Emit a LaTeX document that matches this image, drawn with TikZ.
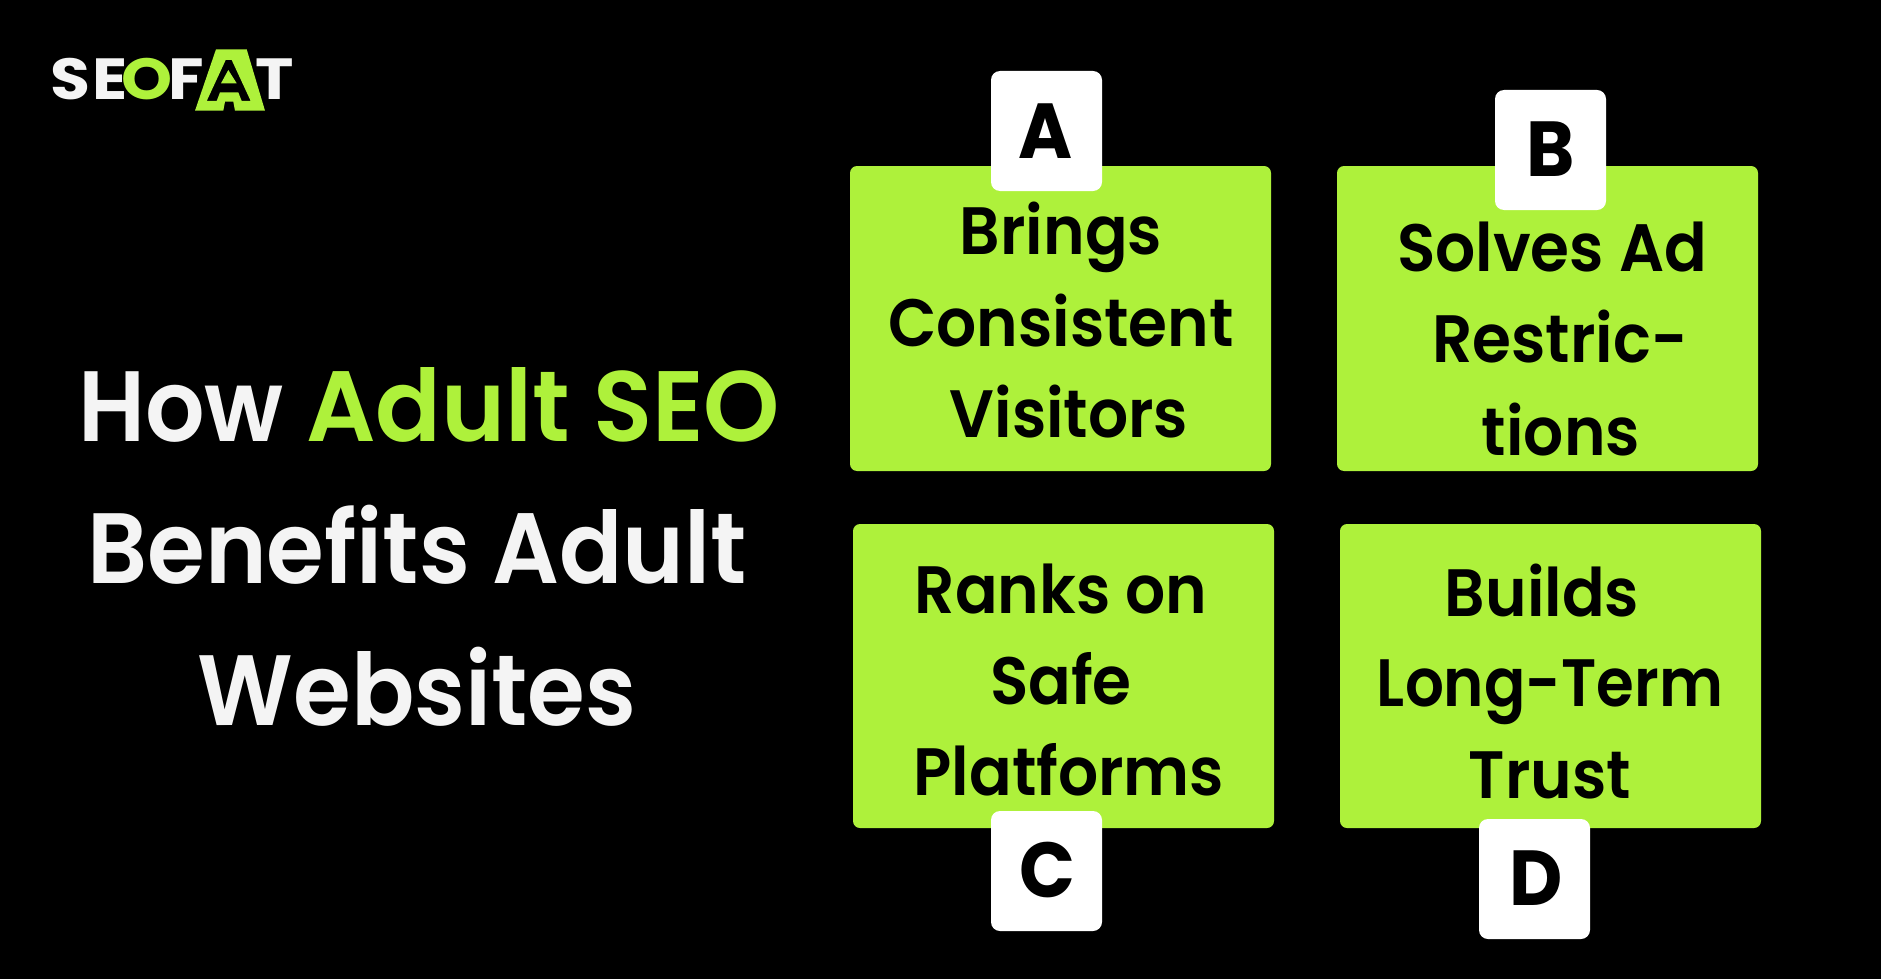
\documentclass[tikz,border=0pt]{standalone}
\usepackage{fontspec}
\setmainfont{Poppins}[FakeStretch=0.94,UprightFont=* SemiBold,BoldFont=* Bold]
\newfontfamily\titlefont{Poppins}[FakeStretch=0.935,UprightFont=* SemiBold]
\newfontfamily\titlewide{Poppins}[FakeStretch=0.97,UprightFont=* SemiBold]
\newfontfamily\logofont{Poppins}[FakeStretch=1.12,UprightFont=* Bold]
\definecolor{lime}{HTML}{AEF13B}
\definecolor{offwhite}{HTML}{F4F4F4}
\tikzset{
  card/.style={fill=lime,rounded corners=7pt},
  badge/.style={fill=white,rounded corners=9pt},
  cardtext/.style={text=black,anchor=base,inner sep=0pt,font=\fontsize{67}{67}\selectfont},
  badgetext/.style={text=black,anchor=base,inner sep=0pt,font=\fontsize{78}{78}\selectfont\bfseries},
  titletext/.style={text=offwhite,anchor=base,inner sep=0pt,font=\titlefont\fontsize{100}{100}\selectfont},
  logotext/.style={text=offwhite,anchor=base,inner sep=0pt,font=\logofont\fontsize{58}{58}\selectfont},
}
\begin{document}
\begin{tikzpicture}[x=1pt,y=-1pt]
\useasboundingbox (0,0) rectangle (1881,979);
\fill[black] (0,0) rectangle (1881,979);
% logo
\node[logotext] (lS) at (70,100) {S};
\node[logotext] (lE) at (110,100) {E};
\node[logotext] (lF) at (186,100) {F};
\node[logotext] (lT) at (275,100) {T};
\node[logotext,text=lime] (lO) at (147,100) {O};
\fill[lime,even odd rule] (195,110.7) -- (216,49.3) -- (246.7,49.3) -- (265,110.7) -- (235,110.7) -- (233.3,101.7) -- (225,101.7) -- (223.3,110.7) -- cycle
  (206.7,101) -- (225.7,60) -- (231.7,60) -- (250.7,101) -- (241.7,101) -- (238.3,92.3) -- (220,92.3) -- (216.7,101) -- cycle
  (221,83.3) -- (228.3,70) -- (236.7,83.3) -- cycle;
% cards
\fill[card] (850,166) rectangle (1271,471);
\fill[card] (1337,166) rectangle (1758,471);
\fill[card] (853,524) rectangle (1274,828);
\fill[card] (1340,524) rectangle (1761,828);
\fill[badge] (991,71) rectangle (1102,191);
\fill[badge] (1495,90) rectangle (1606,210);
\fill[badge] (991,811) rectangle (1102,931);
\fill[badge] (1479,819) rectangle (1590,939);
\node[badgetext] (bA) at (1046,158) {A};
\node[badgetext] (bB) at (1551,176) {B};
\node[badgetext] (bC) at (1047,897) {C};
\node[badgetext] (bD) at (1536,905) {D};
% card text
\node[cardtext] (a1) at (1061,254) {Brings};
\node[cardtext] (a2) at (1061,346) {Consistent};
\node[cardtext] (a3) at (1069,437) {Visitors};
\node[cardtext] (b1) at (1552,271) {Solves Ad};
\node[cardtext] (b2) at (1560,362) {Restric-};
\node[cardtext] (b3) at (1561,455) {tions};
\node[cardtext] (c1) at (1061,613) {Ranks on};
\node[cardtext] (c2) at (1061,704) {Safe};
\node[cardtext] (c3) at (1069,795) {Platforms};
\node[cardtext] (d1) at (1542,616) {Builds};
\node[cardtext] (d2) at (1550,706) {\scalebox{.97}[1]{Long-Term}};
\node[cardtext] (d3) at (1550,798) {Trust};
% title
\node[titletext,anchor=base west] (t1a) at (78,441) {How};
\node[titletext,anchor=base west,text=lime,font=\titlewide\fontsize{100}{100}\selectfont] (t1b) at (306,441) {Adult SEO};
\node[titletext] (t2) at (417,583) {Benefits Adult};
\node[titletext] (t3) at (417,725) {Websites};
\end{tikzpicture}
\end{document}
